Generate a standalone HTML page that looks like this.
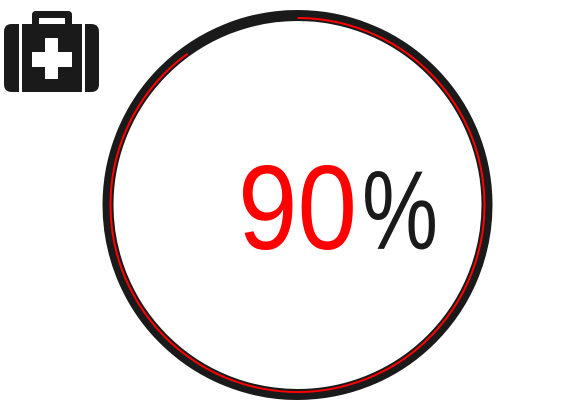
<!DOCTYPE html>
<html><head><meta charset="utf-8"><style>
html,body{margin:0;padding:0;background:#fff;width:583px;height:407px;overflow:hidden}
svg{display:block}
</style></head><body>
<svg width="583" height="407" viewBox="0 0 583 407">
  <g fill="#1a1a1a">
    <path d="M36 11 H68 Q72 11 72 15 V26 H65 V18 H39 V26 H32 V15 Q32 11 36 11 Z"/>
    <path d="M12 24 H19 V92 H12 Q4 92 4 84 V32 Q4 24 12 24 Z"/>
    <path d="M85 24 H91 Q99 24 99 32 V84 Q99 92 91 92 H85 Z"/>
    <rect x="22" y="24" width="60" height="68"/>
    <path d="M45 38 H58 V52 H72 V67 H58 V79 H45 V67 H32 V52 H45 Z" fill="#fff"/>
  </g>
  <circle cx="297.5" cy="205" r="189.5" fill="none" stroke="#1a1a1a" stroke-width="11"/>
  <path id="arc" fill="none" stroke="#ff0000" stroke-width="2"/>
  <text x="238" y="249" font-family="Liberation Sans, sans-serif" font-size="120" fill="#ff0000" textLength="119" lengthAdjust="spacingAndGlyphs">90</text>
  <text x="362" y="249" font-family="Liberation Sans, sans-serif" font-size="112" fill="#1a1a1a" textLength="76" lengthAdjust="spacingAndGlyphs">%</text>
</svg>
<script>
const values = [90];
const maxValue = 100;
const cx = 297.5, cy = 205, r = 187;
const frac = values[0] / maxValue;
const a = frac * 2 * Math.PI;
const x0 = cx, y0 = cy - r;
const x1 = cx + r * Math.sin(a), y1 = cy - r * Math.cos(a);
const large = frac > 0.5 ? 1 : 0;
document.getElementById('arc').setAttribute('d', `M${x0} ${y0} A${r} ${r} 0 ${large} 1 ${x1} ${y1}`);
</script>
</body></html>
